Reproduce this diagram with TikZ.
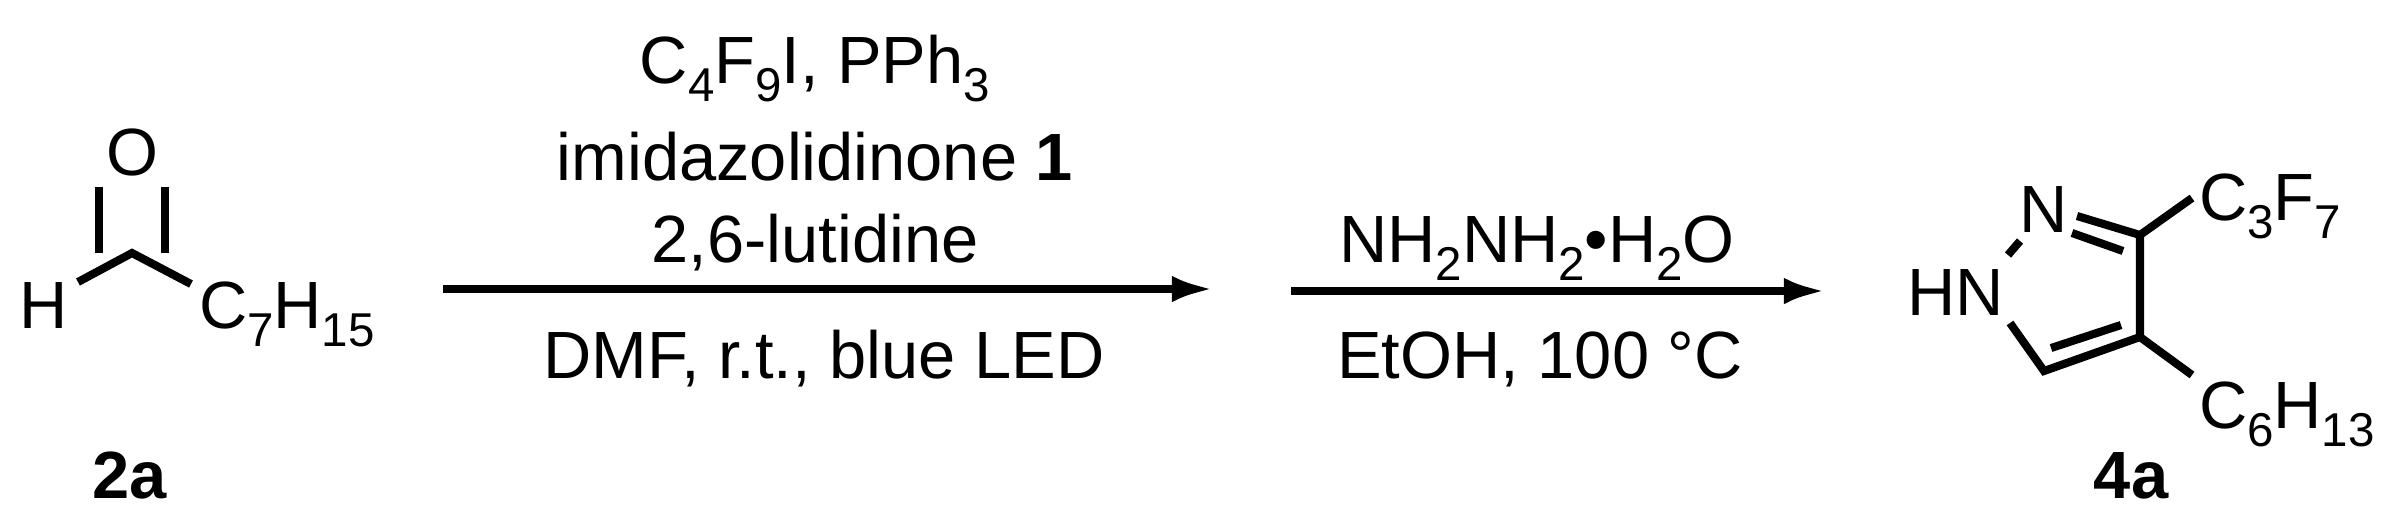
\documentclass[tikz,border=0pt]{standalone}
\usepackage{fontspec}
\setmainfont{Liberation Sans}
\usetikzlibrary{arrows.meta}
\newcommand{\chs}[1]{\raisebox{-0.28em}{\fontsize{13.5}{14}\selectfont #1}}
\begin{document}
\begin{tikzpicture}[x=0.01cm,y=-0.01cm,line width=2.3pt,
  txt/.style={inner sep=0pt,font=\fontsize{19}{22}\selectfont},
  arr/.style={-{Latex[length=12pt,width=7.5pt,inset=0pt]},line width=2.3pt}]
\useasboundingbox (0,0) rectangle (2391,511);
% 2a
\node[txt] (O) at (132,152) {O};
\node[txt,anchor=base] (H) at (44,328) {H};
\node[txt,anchor=base west] (R1) at (195,328) {C\chs{7}H\chs{15}};
\coordinate (C1) at (132,253);
\coordinate (Ha) at (78,282);
\coordinate (Ra) at (191,284);
\draw (Ha) -- (C1) -- (Ra);
\draw ([xshift=-9.5]C1) -- ++(0,-66);
\draw ([xshift=9.5]C1) -- ++(0,-66);
\node[txt,font=\fontsize{19}{22}\selectfont\bfseries,anchor=base] (L1) at (130,498) {2a};
% arrow 1
\coordinate (A1s) at (443,289);
\coordinate (A1e) at (1214,289);
\draw[arr] (A1s) -- (A1e);
\node[txt,anchor=base] (t1) at (815,83) {C\chs{4}F\chs{9}I, PPh\chs{3}};
\node[txt,anchor=base] (t2) at (815,180) {imidazolidinone \textbf{1}};
\node[txt,anchor=base] (t3) at (815,262) {2,6-lutidine};
\node[txt,anchor=base] (t4) at (824,378) {DMF, r.t., blue LED};
% arrow 2
\coordinate (A2s) at (1291,291);
\coordinate (A2e) at (1826,291);
\draw[arr] (A2s) -- (A2e);
\node[txt,anchor=base] (t5) at (1537,262) {NH\chs{2}NH\chs{2}•H\chs{2}O};
\node[txt,anchor=base] (t6) at (1540,378) {EtOH, 100 °C};
% 4a
\node[txt,anchor=base] (N2) at (2044,232) {N};
\node[txt,anchor=base east] (HN) at (2008,315) {HN};
\coordinate (C3) at (2140,235);
\coordinate (C4) at (2140,337);
\coordinate (C5) at (2044,371);
\coordinate (N1b) at (2010,323);
\coordinate (N1a) at (2008,255);
\coordinate (N2a) at (2020,241);
\coordinate (N2b) at (2077,216);
\draw (N1a) -- (N2a);
\draw (N2b) -- (C3) -- (C4) -- (C5) -- (N1b);
\draw (2072,233) -- (2123,251);
\draw (2051,348) -- (2121,325);
\coordinate (Rb) at (2192,198);
\coordinate (Rc) at (2192,375);
\draw (C3) -- (Rb);
\draw (C4) -- (Rc);
\node[txt,anchor=base west] (R2) at (2195,220) {C\chs{3}F\chs{7}};
\node[txt,anchor=base west] (R3) at (2195,428) {C\chs{6}H\chs{13}};
\node[txt,font=\fontsize{19}{22}\selectfont\bfseries,anchor=base] (L2) at (2131,498) {4a};
\end{tikzpicture}
\end{document}
